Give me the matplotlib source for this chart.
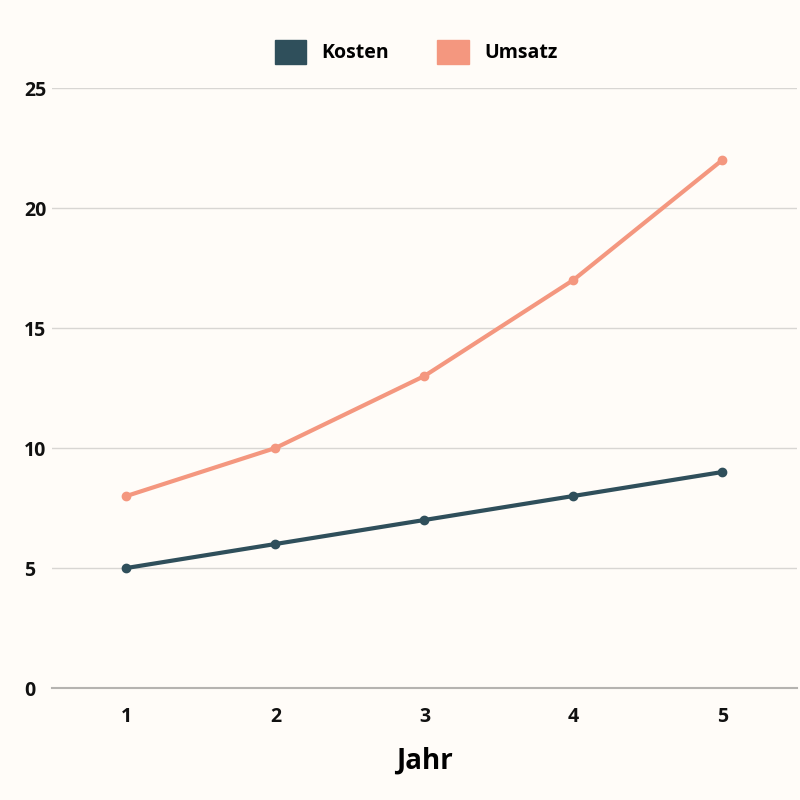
import matplotlib
matplotlib.use("Agg")
import matplotlib.pyplot as plt
from matplotlib.patches import Patch

jahre = [1, 2, 3, 4, 5]
kosten = [5, 6, 7, 8, 9]
umsatz = [8, 10, 13, 17, 22]
yticks = [0, 5, 10, 15, 20, 25]

bg = "#fffcf8"
c_kosten = "#2f4f5b"
c_umsatz = "#f4977f"

plt.rcParams["font.family"] = "Open Sans"

fig = plt.figure(figsize=(8, 8), dpi=100, facecolor=bg)
ax = fig.add_axes([0.065, 0.14, 0.931, 0.75], facecolor=bg)

ax.plot(jahre, umsatz, color=c_umsatz, lw=3, marker="o", ms=6, zorder=3)
ax.plot(jahre, kosten, color=c_kosten, lw=3, marker="o", ms=6, zorder=3)

ax.set_xlim(0.5, 5.5)
ax.set_ylim(0, 25)
ax.set_xticks(jahre)
ax.set_yticks(yticks)
ax.grid(axis="y", color="#d8d6d3", lw=1)
ax.set_axisbelow(True)
for s in ["top", "right", "left"]:
    ax.spines[s].set_visible(False)
ax.spines["bottom"].set_color("#b5b3b0")
ax.spines["bottom"].set_linewidth(1.5)
ax.tick_params(length=0, labelsize=14, colors="#111111", pad=14)
ax.tick_params(axis="y", pad=20)
for lab in ax.get_xticklabels() + ax.get_yticklabels():
    lab.set_fontweight("bold")
for lab in ax.get_yticklabels():
    lab.set_horizontalalignment("left")
ax.set_xlabel("Jahr", fontsize=20, fontweight="bold", labelpad=14)

handles = [Patch(color=c_kosten, label="Kosten"), Patch(color=c_umsatz, label="Umsatz")]
leg = fig.legend(handles=handles, loc="center", bbox_to_anchor=(0.52, 0.935), ncol=2,
                 frameon=False, handlelength=1.6, handleheight=1.6, columnspacing=2.5,
                 prop={"size": 14, "weight": "bold"})

fig.savefig("out.png", dpi=100, facecolor=bg)
